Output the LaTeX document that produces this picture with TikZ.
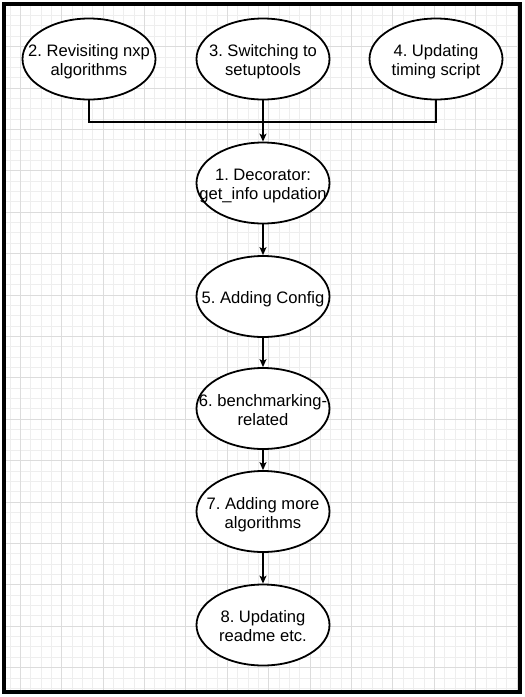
\documentclass[tikz,border=0pt]{standalone}
\usepackage{fontspec}
\setmainfont{Liberation Sans}
\frenchspacing
\usetikzlibrary{arrows.meta,shapes.geometric}
\definecolor{gridminor}{HTML}{EEEEEE}
\definecolor{gridmajor}{HTML}{DCDCDC}
\newcommand{\elltext}[2]{\makebox[0pt]{\raisebox{#1}{\begin{tabular}[t]{@{}c@{}}#2\end{tabular}}}}
\begin{document}
\begin{tikzpicture}[x=1pt,y=-1pt,
  ell/.style={ellipse, draw=black, line width=1.8pt, fill=white,
    minimum width=133pt, minimum height=81pt, inner sep=0pt,
    text height=0pt, text depth=0pt, font=\fontsize{16.6}{19}\selectfont\frenchspacing},
  conn/.style={draw=black, line width=1.2pt},
  arr/.style={conn, -{Stealth[length=8pt,width=7pt,inset=2pt]}},
  minorgrid/.style={draw=gridminor, line width=0.9pt},
  majorgrid/.style={draw=gridmajor, line width=1pt}]
\useasboundingbox (0,0) rectangle (525,697);
\fill[white] (0,0) rectangle (525,697);
\begin{scope}
  \clip (4,4) rectangle (520,692);
  \foreach \i in {0,...,50} { \draw[minorgrid] ({9.95+10.35*\i},0) -- ++(0,697); }
  \foreach \i in {0,...,67} { \draw[minorgrid] (0,{5.2+10.35*\i}) -- ++(525,0); }
  \foreach \i in {0,...,12} { \draw[majorgrid] ({20.3+41.4*\i},0) -- ++(0,697); }
  \foreach \i in {0,...,16} { \draw[majorgrid] (0,{5.2+41.4*\i}) -- ++(525,0); }
\end{scope}
\draw[line width=4pt] (4,4) rectangle (520,692);

\node[ell] (e2) at (89,59) {\elltext{2.5pt}{2. Revisiting nxp\\algorithms}};
\node[ell] (e3) at (263,59) {\elltext{2.5pt}{3. Switching to\\setuptools}};
\node[ell] (e4) at (436,59) {\elltext{2.5pt}{4. Updating\\timing script}};
\node[ell] (e1) at (263,183) {\elltext{2.5pt}{1. Decorator:\\get\_info updation}};
\node[ell] (e5) at (263,296.5) {\elltext{-6.8pt}{5. Adding Config}};
\node[ell] (e6) at (263,408.5) {\elltext{2.5pt}{6. benchmarking-\\related}};
\node[ell] (e7) at (263,511.5) {\elltext{2.5pt}{7. Adding more\\algorithms}};
\node[ell] (e8) at (263,625) {\elltext{2.5pt}{8. Updating\\readme etc.}};

\coordinate (j) at (263,122);
\draw[conn] (e2.south) |- (j) -| (e4.south);
\draw[arr] (e3.south) -- (e1.north);
\draw[arr] (e1.south) -- (e5.north);
\draw[arr] (e5.south) -- (e6.north);
\draw[arr] (e6.south) -- (e7.north);
\draw[arr] (e7.south) -- (e8.north);
\end{tikzpicture}
\end{document}
